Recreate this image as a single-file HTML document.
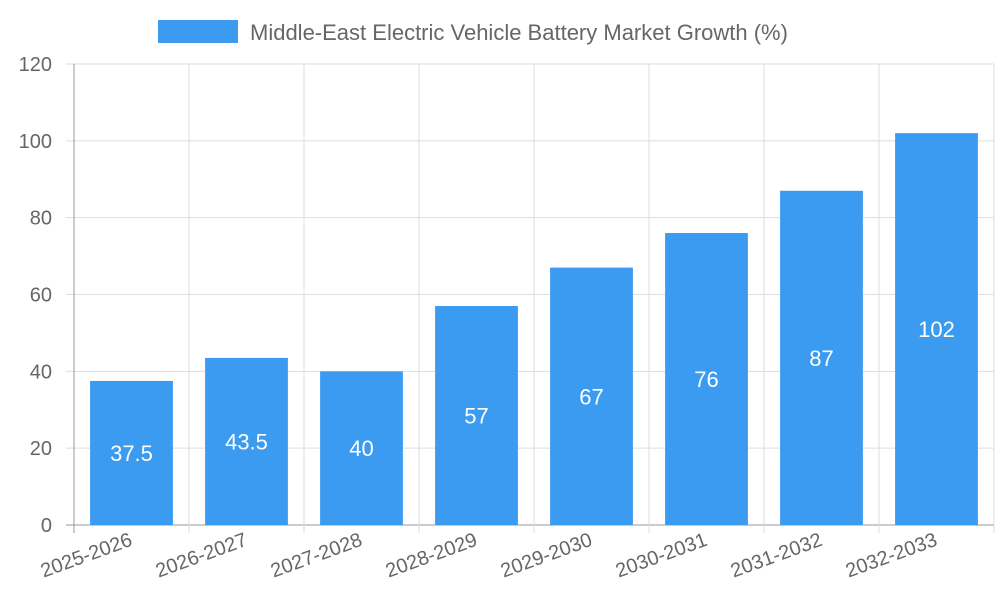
<!DOCTYPE html>
<html><head><meta charset="utf-8"><style>
body{margin:0;background:#fff;}
svg text{font-family:"Liberation Sans",sans-serif;}
</style></head><body>
<svg id="chart" width="1000" height="600">
<g id="legend">
<rect x="158" y="20" width="80" height="23" fill="#3a9bf0"></rect>
<text x="250" y="40" font-size="22" fill="#666">Middle-East Electric Vehicle Battery Market Growth (%)</text>
</g>
<g id="grid"></g><g id="bars"></g><g id="axes"></g>
</svg>
<script>
const categories=["2025-2026","2026-2027","2027-2028","2028-2029","2029-2030","2030-2031","2031-2032","2032-2033"];
const values=[37.5,43.5,40,57,67,76,87,102];
const valueLabels=["37.5","43.5","40","57","67","76","87","102"];
const yTicks=[0,20,40,60,80,100,120];
const NS="http://www.w3.org/2000/svg";
const L=74,R=994,T=64,B=525,yMax=120;
const bw=(R-L)/categories.length;
const y=v=>B-(B-T)*v/yMax;
const xStart=i=>L+i*bw;
function mk(tag,attrs,parent,txt){const e=document.createElementNS(NS,tag);for(const k in attrs)e.setAttribute(k,attrs[k]);if(txt!==undefined)e.textContent=txt;document.getElementById(parent).appendChild(e);return e;}
yTicks.forEach(t=>{
 const g=mk('line',{x1:66,x2:R,y1:y(t),y2:y(t),stroke:t===0?'#999':'#ddd','stroke-width':1},'grid');
 
 
 const lb=mk('text',{x:52,y:y(t)+7,'text-anchor':'end','font-size':20,fill:'#666'},'axes',String(t));
 
 
});
for(let i=0;i<=categories.length;i++){
 const gl=mk('line',{x1:xStart(i),x2:xStart(i),y1:T,y2:B+8,stroke:i===0?'#999':'#ddd','stroke-width':1},'grid');
 
 
}
categories.forEach((c,i)=>{
 const cx=xStart(i)+bw/2, w=bw*0.72;
 const r=mk('rect',{x:cx-w/2,y:y(values[i]),width:w,height:B-y(values[i]),fill:'#3a9bf0'},'bars');
 
 
 const vl=mk('text',{x:cx,y:(y(values[i])+B)/2+8,'text-anchor':'middle','font-size':22,fill:'#fff'},'bars',valueLabels[i]);
 
 
 const xl=mk('text',{x:cx+2,y:545,'text-anchor':'end','font-size':20,fill:'#666',transform:`rotate(-20 ${cx+2} 545)`},'axes',c);
 
 
});
</script>
</body></html>
